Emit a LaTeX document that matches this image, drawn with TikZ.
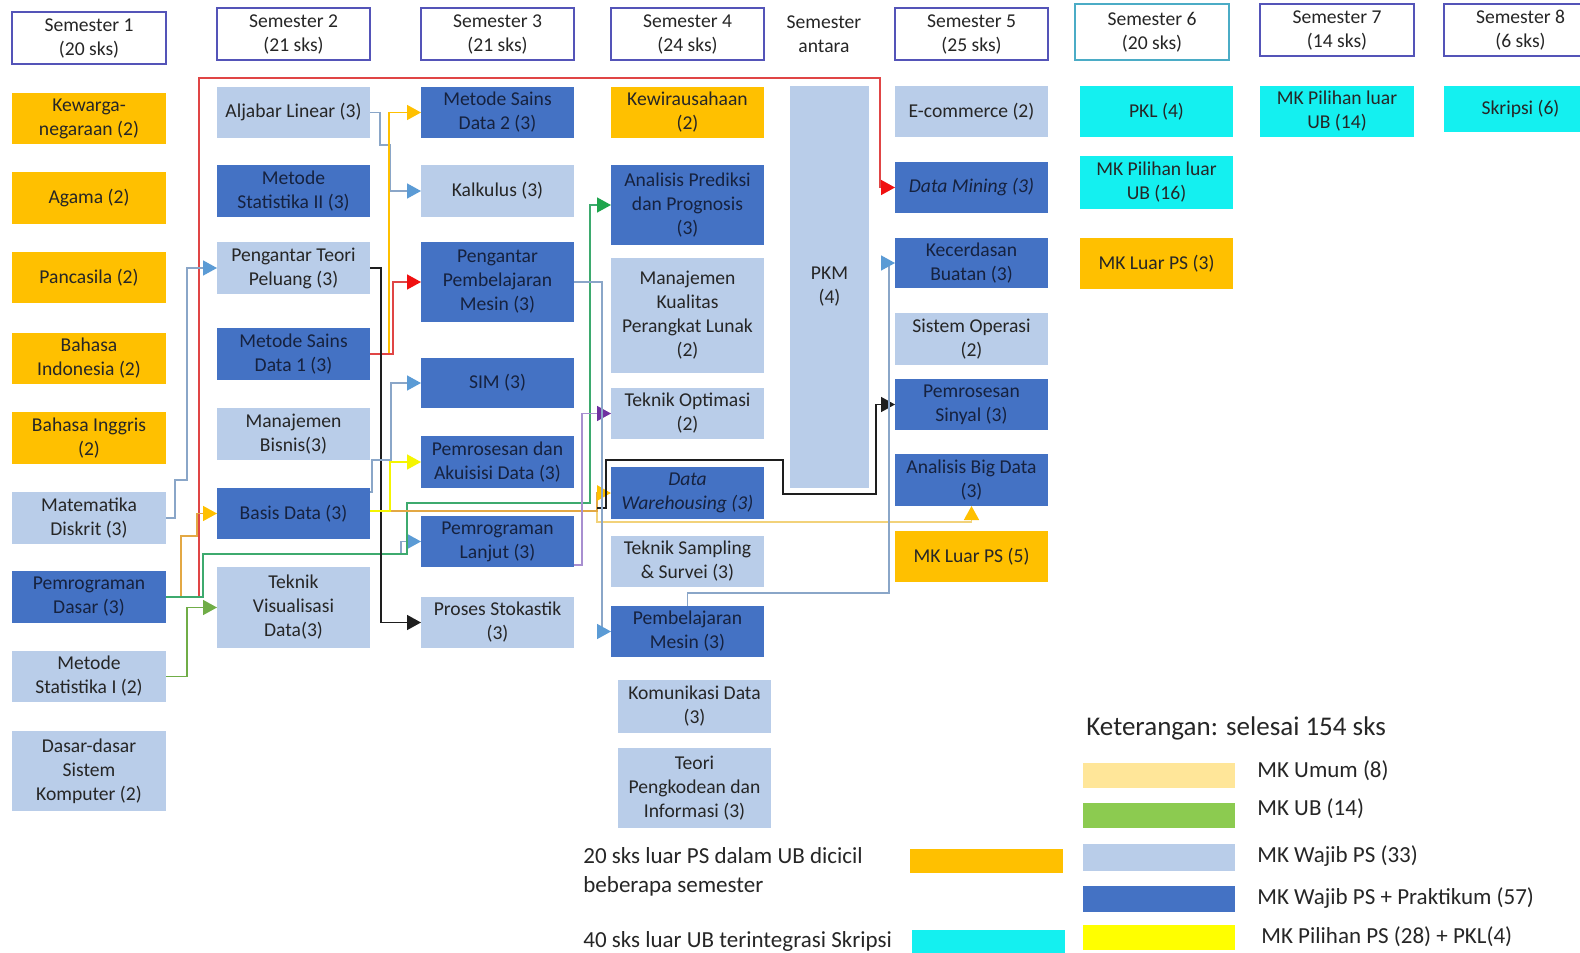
\documentclass[tikz,border=0pt]{standalone}
\usepackage{fontspec}
\setmainfont{Carlito}
\usetikzlibrary{arrows.meta,calc}

\definecolor{mkOrange}{HTML}{FFC000}
\definecolor{mkLight}{HTML}{B9CDE9}
\definecolor{mkDark}{HTML}{4472C4}
\definecolor{mkCyan}{HTML}{14F0F0}
\definecolor{legOrange}{HTML}{FFE699}
\definecolor{legGreen}{HTML}{8CCB50}
\definecolor{legYellow}{HTML}{FFFF00}
\definecolor{hdrBorder}{HTML}{5454B8}
\definecolor{hdrTeal}{HTML}{4BACC6}
\definecolor{txtDark}{HTML}{262626}
\definecolor{txtNavy}{HTML}{16223F}
\definecolor{lnRed}{HTML}{E04545}
\definecolor{arRed}{HTML}{F01010}
\definecolor{lnOrange}{HTML}{FFC000}
\definecolor{lnTan}{HTML}{E3A844}
\definecolor{lnSteel}{HTML}{8AA6C8}
\definecolor{arSteel}{HTML}{5B9BD5}
\definecolor{lnBlack}{HTML}{1E1E1E}
\definecolor{lnGreen}{HTML}{3DAA6E}
\definecolor{arGreen}{HTML}{1FA54D}
\definecolor{lnOlive}{HTML}{70AD47}
\definecolor{lnYellow}{HTML}{F5F500}
\definecolor{lnPale}{HTML}{F2D27A}
\definecolor{lnPurple}{HTML}{A88FD0}
\definecolor{arPurple}{HTML}{7030A0}

% a course box given by its corners: name, style, x1, y1, x2, y2, text
\newcommand{\course}[7]{%
  \node[#2, minimum width={(#5-#3)*0.5pt}, minimum height={(#6-#4)*0.5pt}]
    (#1) at ({(#3+#5)/2},{(#4+#6)/2}) {#7};}

\tikzset{
  box/.style={inner sep=0pt, outer sep=0pt, align=center,
    font=\fontsize{9.8}{12}\selectfont, text=txtDark},
  umum/.style={box, fill=mkOrange},
  wajib/.style={box, fill=mkLight},
  prak/.style={box, fill=mkDark, text=txtNavy},
  luarub/.style={box, fill=mkCyan},
  semhead/.style={box, draw=hdrBorder, line width=0.9pt, fill=white},
  swatch/.style={inner sep=0pt, outer sep=0pt},
  legtext/.style={inner sep=0pt, font=\fontsize{11.5}{14.5}\selectfont, text=txtDark},
  link/.style={line width=0.75pt},
  headed/.style={-{Triangle[length=7pt,width=7.5pt,color=#1]}},
}

\begin{document}
\begin{tikzpicture}[x=0.5pt, y=-0.5pt]
\useasboundingbox (0,0) rectangle (1580,953);
\fill[white] (0,0) rectangle (1580,953);

% semester headers
\course{h1}{semhead}{12}{12}{166}{64}{Semester 1\\(20 sks)}
\course{h2}{semhead}{217}{8}{370}{60}{Semester 2\\(21 sks)}
\course{h3}{semhead}{421}{8}{574}{60}{Semester 3\\(21 sks)}
\course{h4}{semhead}{611}{8}{764}{60}{Semester 4\\(24 sks)}
\node[box] (ha) at (824,34) {Semester\\antara};
\course{h5}{semhead}{895}{8}{1048}{60}{Semester 5\\(25 sks)}
\course{h6}{semhead,draw=hdrTeal}{1075}{4}{1229}{60}{Semester 6\\(20 sks)}
\course{h7}{semhead}{1260}{4}{1414}{56}{Semester 7\\(14 sks)}
\course{h8}{semhead}{1444}{4}{1597}{56}{Semester 8\\(6 sks)}

% semester 1
\course{kwn}{umum}{12}{93}{166}{144}{Kewarga-\\negaraan (2)}
\course{agama}{umum}{12}{172}{166}{224}{Agama (2)}
\course{pancasila}{umum}{12}{252}{166}{303}{Pancasila (2)}
\course{bind}{umum}{12}{333}{166}{384}{Bahasa\\Indonesia (2)}
\course{bing}{umum}{12}{412}{166}{464}{Bahasa Inggris\\(2)}
\course{matdis}{wajib}{12}{492}{166}{544}{Matematika\\Diskrit (3)}
\course{pemdas}{prak}{12}{571}{166}{623}{Pemrograman\\Dasar (3)}
\course{mstat1}{wajib}{12}{651}{166}{702}{Metode\\Statistika I (2)}
\course{dsk}{wajib}{12}{731}{166}{811}{Dasar-dasar\\Sistem\\Komputer (2)}

% semester 2
\course{aljabar}{wajib}{217}{87}{370}{138}{Aljabar Linear (3)}
\course{mstat2}{prak}{217}{165}{370}{217}{Metode\\Statistika II (3)}
\course{ptp}{wajib}{217}{242}{370}{294}{Pengantar Teori\\Peluang (3)}
\course{msd1}{prak}{217}{328}{370}{380}{Metode Sains\\Data 1 (3)}
\course{manbis}{wajib}{217}{408}{370}{460}{Manajemen\\Bisnis(3)}
\course{basis}{prak}{217}{488}{370}{539}{Basis Data (3)}
\course{tekvis}{wajib}{217}{567}{370}{648}{Teknik\\Visualisasi\\Data(3)}

% semester 3
\course{msd2}{prak}{421}{87}{574}{138}{Metode Sains\\Data 2 (3)}
\course{kalk}{wajib}{421}{165}{574}{217}{Kalkulus (3)}
\course{ppm}{prak}{421}{242}{574}{322}{Pengantar\\Pembelajaran\\Mesin (3)}
\course{sim}{prak}{421}{358}{574}{408}{SIM (3)}
\course{pad}{prak}{421}{436}{574}{488}{Pemrosesan dan\\Akuisisi Data (3)}
\course{pl}{prak}{421}{516}{574}{567}{Pemrograman\\Lanjut (3)}
\course{ps}{wajib}{421}{597}{574}{648}{Proses Stokastik\\(3)}

% semester 4
\course{kwu}{umum}{611}{87}{764}{138}{Kewirausahaan\\(2)}
\course{app}{prak}{611}{165}{764}{245}{Analisis Prediksi\\dan Prognosis\\(3)}
\course{mkpl}{wajib}{611}{258}{764}{373}{Manajemen\\Kualitas\\Perangkat Lunak\\(2)}
\course{topt}{wajib}{611}{388}{764}{439}{Teknik Optimasi\\(2)}
\course{dw}{prak}{611}{467}{764}{519}{\textit{Data}\\\textit{Warehousing (3)}}
\course{tss}{wajib}{611}{536}{764}{587}{Teknik Sampling\\\& Survei (3)}
\course{pm}{prak}{611}{606}{764}{657}{Pembelajaran\\Mesin (3)}
\course{kd}{wajib}{618}{680}{771}{733}{Komunikasi Data\\(3)}
\course{tpi}{wajib}{618}{748}{771}{828}{Teori\\Pengkodean dan\\Informasi (3)}

% semester antara
\course{pkm}{wajib}{790}{86}{869}{488}{PKM\\(4)}

% semester 5
\course{ecom}{wajib}{895}{86}{1048}{137}{E-commerce (2)}
\course{dm}{prak}{895}{162}{1048}{213}{\textit{Data Mining (3)}}
\course{kb}{prak}{895}{238}{1048}{288}{Kecerdasan\\Buatan (3)}
\course{so}{wajib}{895}{313}{1048}{365}{Sistem Operasi\\(2)}
\course{psin}{prak}{895}{379}{1048}{430}{Pemrosesan\\Sinyal (3)}
\course{abd}{prak}{895}{454}{1048}{506}{Analisis Big Data\\(3)}
\course{luar5}{umum}{895}{531}{1048}{582}{MK Luar PS (5)}

% semester 6, 7, 8
\course{pkl}{luarub}{1080}{86}{1233}{137}{PKL (4)}
\course{pil16}{luarub}{1080}{156}{1233}{209}{MK Pilihan luar\\UB (16)}
\course{luar3}{umum}{1080}{238}{1233}{289}{MK Luar PS (3)}
\course{pil14}{luarub}{1260}{86}{1414}{137}{MK Pilihan luar\\UB (14)}
\course{skripsi}{luarub}{1444}{86}{1597}{132}{Skripsi (6)}

% prerequisite connectors
\draw[link, draw=lnRed, headed=arRed] (pemdas.east) -- (199,597) -- (199,78) -- (880,78) |- (dm.west);
\draw[link, draw=lnTan, headed=lnOrange] (pemdas.east) -- (181,597) -- (181,536) -- (197,536) |- (basis.west);
\draw[link, draw=lnSteel, headed=arSteel] (pemdas.east) -- (203,597) -- (203,554) -- (401,554) |- (pl.west);
\draw[link, draw=lnGreen, headed=arGreen] (pemdas.east) -- (203,597) -- (203,554) -- (407,554) -- (407,503) -- (590,503) |- (app.west);
\draw[link, draw=lnSteel, headed=arSteel] (matdis.east) -- (175,518) -- (175,480) -- (187,480) |- (ptp.west);
\draw[link, draw=lnOlive, headed=lnOlive] (mstat1.east) -- (187,676.5) |- (tekvis.west);
\draw[link, draw=lnSteel, headed=arSteel] (aljabar.east) -- (380,112.5) -- (380,145) -- (390,145) |- (kalk.west);
\draw[link, draw=lnOrange, headed=lnOrange] (msd1.east) -- (389,354) |- (msd2.west);
\draw[link, draw=lnRed, headed=arRed] (msd1.east) -- (393,354) |- (ppm.west);
\draw[link, draw=lnBlack, headed=lnBlack] (ptp.east) -- (381,268) |- (ps.west);
\draw[link, draw=lnSteel, headed=arSteel] (basis.east |- 0,492) -- (372,492) -- (372,460) -- (391,460) |- (sim.west);
\draw[link, draw=lnPale, headed=lnOrange] (basis.east |- 0,511) -- (597,511) -- (597,522) -| (abd.south);
\draw[link, line width=1.4pt, draw=lnTan, headed=lnOrange] (basis.east |- 0,511) -- (597,511) |- (dw.west);
\draw[link, draw=lnYellow, headed=lnYellow] (basis.east |- 0,511) -- (390,511) |- (pad.west);
\coordinate (bjoin) at (597,508);
\draw[link, draw=lnBlack, headed=lnBlack] (bjoin) -- (606,508) -- (606,460) -- (783,460) -- (783,494) -- (876,494) |- (psin.west);
\draw[link, draw=lnPurple, headed=arPurple] (pl.east |- 0,565) -- (582,565) |- (topt.west);
\draw[link, draw=lnSteel, headed=arSteel] (ppm.east) -- (602,282) |- (pm.west);
\draw[link, draw=lnSteel, headed=arSteel] (pm.north) -- (687.5,593) -- (889,593) |- (kb.west);

% legend
\node[legtext, anchor=west, font=\fontsize{13.5}{16}\selectfont] (ket) at (1086,728) {Keterangan: selesai 154 sks};
\course{sw1}{swatch, fill=legOrange}{1083}{763}{1235}{788}{}
\course{sw2}{swatch, fill=legGreen}{1083}{803}{1235}{828}{}
\course{sw3}{swatch, fill=mkLight}{1083}{844}{1235}{871}{}
\course{sw4}{swatch, fill=mkDark}{1083}{886}{1235}{912}{}
\course{sw5}{swatch, fill=legYellow}{1083}{925}{1235}{950}{}
\node[legtext, anchor=west] (l1) at (1257,771) {MK Umum (8)};
\node[legtext, anchor=west] (l2) at (1257,809) {MK UB (14)};
\node[legtext, anchor=west] (l3) at (1257,856) {MK Wajib PS (33)};
\node[legtext, anchor=west] (l4) at (1257,898) {MK Wajib PS + Praktikum (57)};
\node[legtext, anchor=west] (l5) at (1261,937) {MK Pilihan PS (28) + PKL(4)};

% notes on credits taken outside the programme
\node[legtext, anchor=west, align=left] (n1) at (583,872) {20 sks luar PS dalam UB dicicil\\beberapa semester};
\course{sw6}{swatch, fill=mkOrange}{910}{849}{1063}{873}{}
\node[legtext, anchor=west] (n2) at (583,941) {40 sks luar UB terintegrasi Skripsi};
\course{sw7}{swatch, fill=mkCyan}{912}{930}{1065}{953}{}
\end{tikzpicture}
\end{document}
